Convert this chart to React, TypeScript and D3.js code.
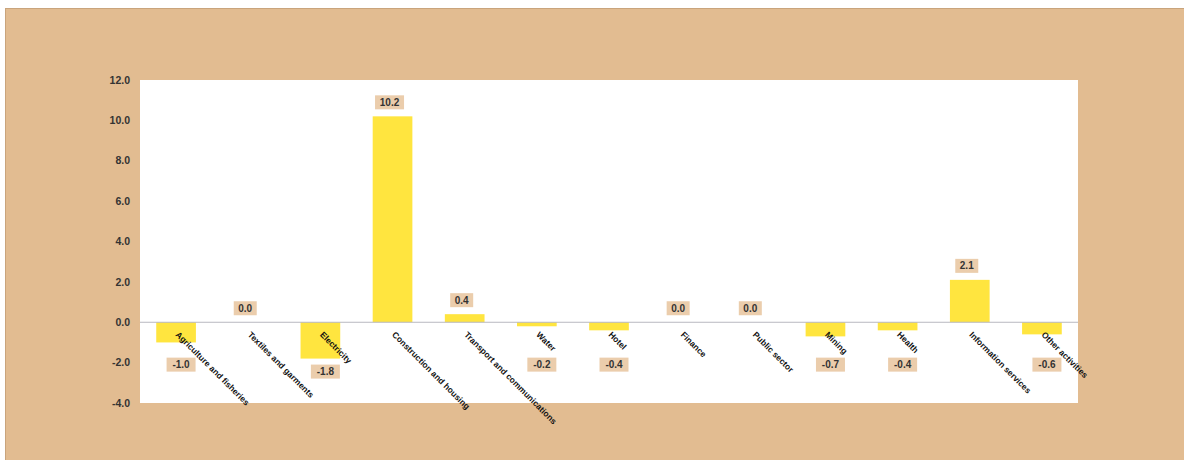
import React from "react";
import * as d3 from "d3";

const categories = [
  "Agriculture and fisheries",
  "Textiles and garments",
  "Electricity",
  "Construction and housing",
  "Transport and communications",
  "Water",
  "Hotel",
  "Finance",
  "Public sector",
  "Mining",
  "Health",
  "Information services",
  "Other activities",
];
const values = [-1.0, 0.0, -1.8, 10.2, 0.4, -0.2, -0.4, 0.0, 0.0, -0.7, -0.4, 2.1, -0.6];
const yTicks = [-4, -2, 0, 2, 4, 6, 8, 10, 12];

const W = 1184;
const H = 460;
const frame = { x: 5, y: 8 };
const plot = { left: 140, right: 1078, top: 80, bottom: 403 };

export default function App() {
  const x = d3
    .scaleBand<string>()
    .domain(categories)
    .range([plot.left, plot.right])
    .paddingInner(0.45)
    .paddingOuter(0.225);
  const y = d3.scaleLinear().domain([-4, 12]).range([plot.bottom, plot.top]);
  const f1 = d3.format(".1f");
  const fmt = (v: number) => f1(v).replace("\u2212", "-");
  const bw = x.bandwidth();

  return (
    <svg
      width={W}
      height={H}
      style={{ position: "absolute", left: 0, top: 0, fontFamily: "Arial, 'Liberation Sans', sans-serif" }}
    >
      <rect x={0} y={0} width={W} height={H} fill="#ffffff" />
      <rect x={frame.x} y={frame.y} width={W - frame.x} height={H - frame.y} fill="#E2BC91" />
      <line x1={frame.x + 0.5} x2={frame.x + 0.5} y1={frame.y} y2={H} stroke="#C9A47C" strokeWidth={1} />
      <line x1={frame.x} x2={W} y1={frame.y + 0.5} y2={frame.y + 0.5} stroke="#C9A47C" strokeWidth={1} />
      <rect
        x={plot.left}
        y={plot.top}
        width={plot.right - plot.left}
        height={plot.bottom - plot.top}
        fill="#ffffff"
      />
      {yTicks.map((t) => (
        <text
          key={t}
          x={plot.left - 10}
          y={y(t)}
          dy="0.35em"
          textAnchor="end"
          fontSize={10.5}
          fontWeight="bold"
          fill="#333"
        >
          {fmt(t)}
        </text>
      ))}
      {categories.map((c, i) => {
        const v = values[i];
        const x0 = x(c)!;
        return (
          <rect
            key={c}
            x={x0}
            y={y(Math.max(0, v))}
            width={bw}
            height={Math.abs(y(v) - y(0))}
            fill="#FFE53F"
          />
        );
      })}
      <line x1={plot.left} x2={plot.right} y1={y(0)} y2={y(0)} stroke="#B8B8C0" strokeWidth={1} />
      {categories.map((c) => {
        const cx = x(c)! + bw / 2 - 1;
        const cy = y(0) + 13;
        return (
          <text
            key={c}
            transform={`translate(${cx},${cy}) rotate(45)`}
            fontSize={8.5}
            fontWeight="bold"
            fill="#111"
          >
            {c}
          </text>
        );
      })}
      {categories.map((c, i) => {
        const v = values[i];
        const cx = x(c)! + bw / 2 + (v < 0 ? 5 : -3);
        const cy = v >= 0 ? y(v) - 14 : Math.max(y(v) + 13, y(-2) + 2);
        const label = fmt(v);
        const bwid = label.length * 6 + 5;
        return (
          <g key={c}>
            <rect x={cx - bwid / 2} y={cy - 7} width={bwid} height={14} fill="#EBCDAC" />
            <text x={cx} y={cy} dy="0.35em" textAnchor="middle" fontSize={10} fontWeight="bold" fill="#333">
              {label}
            </text>
          </g>
        );
      })}
    </svg>
  );
}
